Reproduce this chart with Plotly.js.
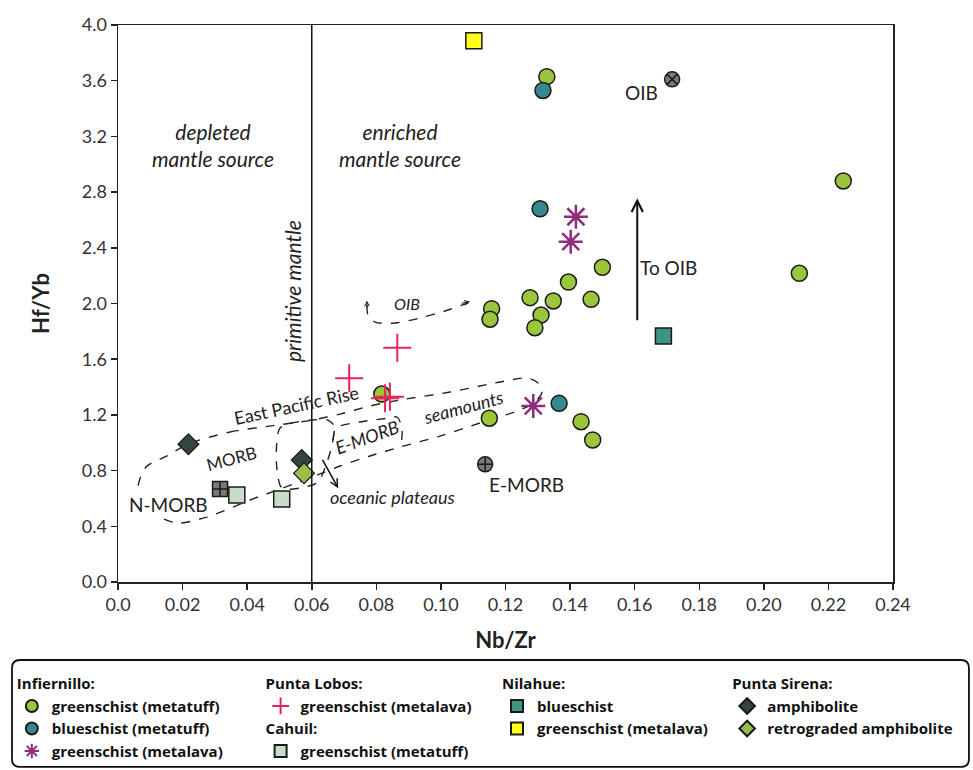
<!DOCTYPE html>
<html>
<head>
<meta charset="utf-8">
<script src="https://cdn.plot.ly/plotly-3.0.1.min.js"></script>
<style>html,body{margin:0;padding:0;background:#fff}#chart{width:973px;height:770px}</style>
</head>
<body>
<div id="chart"></div>
<script>
// ---------- data (Nb/Zr vs Hf/Yb) ----------
var infGreenX = [0.1328, 0.2246, 0.2110, 0.1500, 0.1395, 0.1276, 0.1348, 0.1465, 0.1157, 0.1152, 0.1310, 0.1291, 0.1150, 0.1434, 0.1470, 0.0817];
var infGreenY = [3.629, 2.880, 2.217, 2.260, 2.154, 2.042, 2.018, 2.030, 1.963, 1.887, 1.917, 1.826, 1.176, 1.151, 1.020, 1.350];
var infBlueX = [0.1316, 0.1307, 0.1366];
var infBlueY = [3.530, 2.680, 1.283];
var infStarX = [0.1418, 0.1402, 0.1286];
var infStarY = [2.623, 2.444, 1.264];
var lobosX = [0.0716, 0.0865, 0.0827, 0.0842];
var lobosY = [1.463, 1.683, 1.319, 1.331];
var cahuilX = [0.0368, 0.0507];
var cahuilY = [0.625, 0.596];
var nilBlueX = [0.1689];
var nilBlueY = [1.767];
var nilYellowX = [0.1102];
var nilYellowY = [3.887];
var amphX = [0.0218, 0.0569];
var amphY = [0.989, 0.876];
var retroX = [0.0576];
var retroY = [0.781];
// reference compositions
var refNames = ["OIB", "E-MORB", "N-MORB"];
var refX = [0.1716, 0.1137, 0.0316];
var refY = [3.610, 0.845, 0.668];
var primitiveMantleNbZr = 0.06;
// field outlines
var eprX = [0.02168,0.03468,0.04924,0.06008,0.06875,0.07804,0.08733,0.10281,0.11830,0.12666,0.13006,0.13130,0.12913,0.12449,0.11210,0.09971,0.08733,0.07804,0.06875,0.06256,0.05110,0.04088,0.02849,0.01827,0.01084,0.00619,0.00867,0.01517,0.02168];
var eprY = [0.991,1.077,1.127,1.163,1.206,1.264,1.307,1.364,1.436,1.465,1.429,1.364,1.293,1.235,1.142,1.048,0.969,0.905,0.833,0.776,0.675,0.589,0.474,0.424,0.496,0.661,0.826,0.905,0.991];
var trX = [0.05079,0.04924,0.04924,0.05017,0.05388,0.06008,0.06503,0.06689,0.06627,0.06441,0.06194,0.05636,0.05079];
var trY = [0.675,0.804,1.020,1.106,1.142,1.163,1.163,1.120,0.984,0.840,0.718,0.675,0.675];
var emorbX = [0.06658,0.06751,0.07494,0.08423,0.08640,0.08795,0.08764];
var emorbY = [1.020,1.106,1.149,1.178,1.185,1.106,0.984];
var oibX = [0.07711,0.07742,0.07959,0.08578,0.09352,0.10127,0.10839];
var oibY = [1.989,1.917,1.867,1.860,1.896,1.946,2.004];
// tick labels
var xTickVals = [0,0.02,0.04,0.06,0.08,0.10,0.12,0.14,0.16,0.18,0.20,0.22,0.24];
var xTickText = ["0.0","0.02","0.04","0.06","0.08","0.10","0.12","0.14","0.16","0.18","0.20","0.22","0.24"];
var yTickVals = [0,0.4,0.8,1.2,1.6,2.0,2.4,2.8,3.2,3.6,4.0];

var FONT = "Lato, 'Open Sans', sans-serif";
var LFONT = "'Open Sans', Lato, sans-serif";
var EDGE = "#1a1a1a";

function field(x, y) {
  return {x: x, y: y, mode: "lines", type: "scatter", showlegend: false, hoverinfo: "skip",
          line: {color: "#222", width: 1.4, dash: "dash", shape: "spline", smoothing: 0.8}};
}
var traces = [
  field(eprX, eprY), field(trX, trY), field(emorbX, emorbY), field(oibX, oibY),
  {x: refX, y: refY, text: refNames, mode: "markers", type: "scatter", showlegend: false,
   marker: {symbol: ["circle-x", "circle-cross", "square-cross"], size: 15, color: "#7a7a7a", line: {color: EDGE, width: 1.5}}},
  {x: cahuilX, y: cahuilY, name: "<b>greenschist (metatuff)</b>", mode: "markers", type: "scatter",
   legend: "legend2", legendgroup: "cah", legendrank: 2, legendgrouptitle: {text: "<b>Cahuil:</b>"},
   marker: {symbol: "square", size: 16, color: "#c8dcca", line: {color: EDGE, width: 1.5}}},
  {x: nilBlueX, y: nilBlueY, name: "<b>blueschist</b>", mode: "markers", type: "scatter",
   legend: "legend3", legendgroup: "nil", legendgrouptitle: {text: "<b>Nilahue:</b>"},
   marker: {symbol: "square", size: 16, color: "#3e9580", line: {color: EDGE, width: 1.5}}},
  {x: nilYellowX, y: nilYellowY, name: "<b>greenschist (metalava)</b>", mode: "markers", type: "scatter",
   legend: "legend3", legendgroup: "nil",
   marker: {symbol: "square", size: 16, color: "#ffff1a", line: {color: EDGE, width: 1.5}}},
  {x: amphX, y: amphY, name: "<b>amphibolite</b>", mode: "markers", type: "scatter",
   legend: "legend4", legendgroup: "sir", legendgrouptitle: {text: "<b>Punta Sirena:</b>"},
   marker: {symbol: "diamond", size: 16, color: "#34453f", line: {color: EDGE, width: 1.2}}},
  {x: retroX, y: retroY, name: "<b>retrograded amphibolite</b>", mode: "markers", type: "scatter",
   legend: "legend4", legendgroup: "sir",
   marker: {symbol: "diamond", size: 16, color: "#98bf4a", line: {color: EDGE, width: 1.2}}},
  {x: infGreenX, y: infGreenY, name: "<b>greenschist (metatuff)</b>", mode: "markers", type: "scatter",
   legend: "legend", legendgroup: "inf", legendgrouptitle: {text: "<b>Infiernillo:</b>"},
   marker: {symbol: "circle", size: 16, color: "#9bc63c", line: {color: EDGE, width: 1.5}}},
  {x: infBlueX, y: infBlueY, name: "<b>blueschist (metatuff)</b>", mode: "markers", type: "scatter",
   legend: "legend", legendgroup: "inf",
   marker: {symbol: "circle", size: 16, color: "#37878f", line: {color: EDGE, width: 1.5}}},
  {x: infStarX, y: infStarY, name: "<b>greenschist (metalava)</b>", mode: "markers", type: "scatter",
   legend: "legend", legendgroup: "inf",
   marker: {symbol: "asterisk-open", size: 20, color: "#8e2c7e", line: {color: "#8e2c7e", width: 2.5}}},
  {x: lobosX, y: lobosY, name: "<b>greenschist (metalava)</b>", mode: "markers", type: "scatter",
   legend: "legend2", legendgroup: "lob", legendrank: 1, legendgrouptitle: {text: "<b>Punta Lobos:</b>"},
   marker: {symbol: "cross-thin-open", size: 20, color: "#e3245a", line: {color: "#e3245a", width: 2}}}
];

function txt(x, y, t, opts) {
  var a = {x: x, y: y, xref: "x", yref: "y", text: t, showarrow: false,
           font: {family: FONT, size: 20, color: "#222"}};
  for (var k in opts) { if (k === "font") { for (var f in opts.font) a.font[f] = opts.font[f]; } else a[k] = opts[k]; }
  return a;
}
function arrow(x, y, ax, ay, w, hs) {
  return {x: x, y: y, ax: ax, ay: ay, xref: "x", yref: "y", axref: "x", ayref: "y", text: "",
          showarrow: true, arrowhead: 5, arrowsize: hs || 1, arrowwidth: w || 1.5, arrowcolor: "#111"};
}
var annotations = [
  txt(0.0294, 3.14, "<i>depleted<br>mantle source</i>", {font: {size: 21}}),
  txt(0.0873, 3.14, "<i>enriched<br>mantle source</i>", {font: {size: 21}}),
  txt(0.0542, 2.09, "<i>primitive mantle</i>", {textangle: -90, font: {size: 21}}),
  txt(0.0894, 2.00, "<i>OIB</i>", {font: {size: 16}}),
  txt(0.1705, 2.262, "To OIB", {font: {size: 19}}),
  txt(0.1620, 3.512, "OIB", {font: {size: 19}}),
  txt(0.1264, 0.697, "E-MORB", {font: {size: 19}}),
  txt(0.0155, 0.553, "N-MORB", {font: {size: 19}, bgcolor: "#fff", borderpad: 0}),
  txt(0.0352, 0.888, "MORB", {textangle: -15, font: {size: 17}}),
  txt(0.0553, 1.271, "East Pacific Rise", {textangle: -12, font: {size: 18}}),
  txt(0.0771, 1.041, "<i>E-MORB</i>", {textangle: -20, font: {size: 18}}),
  txt(0.1069, 1.259, "<i>seamounts</i>", {textangle: -15, font: {size: 18}}),
  txt(0.0650, 0.610, "<i>oceanic plateaus</i>", {xanchor: "left", font: {size: 18}}),
  arrow(0.1608, 2.755, 0.1608, 1.869, 2, 1.1),
  arrow(0.0682, 0.673, 0.0631, 0.888, 1.5, 1),
  arrow(0.0771, 2.02, 0.0771, 1.96, 1, 0.9),
  arrow(0.1090, 2.012, 0.1060, 2.0, 1, 0.9)
];

var rx = 8 / 775, ry = 8 / 557;
var bx0 = -0.1368, bx1 = 1.098, byT = -0.140, byB = -0.332;
var boxPath = "M " + (bx0 + rx) + "," + byT + " L " + (bx1 - rx) + "," + byT +
  " Q " + bx1 + "," + byT + " " + bx1 + "," + (byT - ry) + " L " + bx1 + "," + (byB + ry) +
  " Q " + bx1 + "," + byB + " " + (bx1 - rx) + "," + byB + " L " + (bx0 + rx) + "," + byB +
  " Q " + bx0 + "," + byB + " " + bx0 + "," + (byB + ry) + " L " + bx0 + "," + (byT - ry) +
  " Q " + bx0 + "," + byT + " " + (bx0 + rx) + "," + byT + " Z";

var legBase = {bgcolor: "rgba(0,0,0,0)", borderwidth: 0, xanchor: "left", yanchor: "top",
  font: {family: LFONT, size: 15, color: "#111"}, itemsizing: "constant", tracegroupgap: 0,
  grouptitlefont: {family: LFONT, size: 15, color: "#111"}};
function leg(x, y) { var o = JSON.parse(JSON.stringify(legBase)); o.x = x; o.y = y; return o; }

var layout = {
  width: 973, height: 770,
  margin: {l: 118, r: 80, t: 25, b: 188, autoexpand: false},
  paper_bgcolor: "#fff", plot_bgcolor: "#fff",
  font: {family: FONT, color: "#222"},
  xaxis: {range: [0, 0.24], tickvals: xTickVals, ticktext: xTickText, ticks: "outside", ticklen: 6, tickwidth: 1.5,
          tickcolor: "#222", showline: true, linecolor: "#222", linewidth: 1.5, mirror: true, showgrid: false, zeroline: false,
          tickfont: {family: FONT, size: 18, color: "#333"}, automargin: false,
          title: {text: "<b>Nb/Zr</b>", font: {family: FONT, size: 22, color: "#222"}, standoff: 18}},
  yaxis: {range: [0, 4], tickvals: yTickVals, tickformat: ".1f", ticks: "outside", ticklen: 6, tickwidth: 1.5,
          tickcolor: "#222", showline: true, linecolor: "#222", linewidth: 1.5, mirror: true, showgrid: false, zeroline: false,
          tickfont: {family: FONT, size: 18, color: "#333"}, automargin: false,
          title: {text: "<b>Hf/Yb</b>", font: {family: FONT, size: 22, color: "#222"}, standoff: 26}},
  shapes: [
    {type: "line", xref: "x", yref: "paper", x0: primitiveMantleNbZr, x1: primitiveMantleNbZr, y0: 0, y1: 1, line: {color: "#111", width: 1.5}},
    {type: "path", xref: "paper", yref: "paper", path: boxPath, line: {color: "#111", width: 1.8}}
  ],
  annotations: annotations,
  legend: leg(-0.137, -0.153),
  legend2: leg(0.184, -0.153),
  legend3: leg(0.489, -0.153),
  legend4: leg(0.786, -0.153),
  showlegend: true
};
Plotly.newPlot("chart", traces, layout, {displayModeBar: false, staticPlot: true});
</script>
</body>
</html>
